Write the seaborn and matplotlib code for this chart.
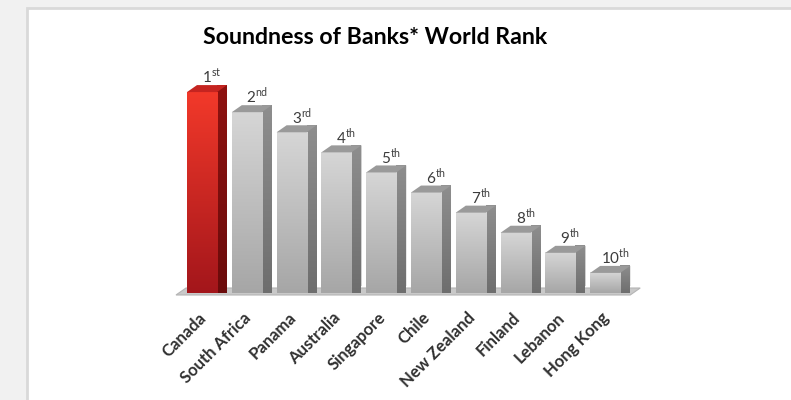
import numpy as np
import matplotlib
matplotlib.use("Agg")
import matplotlib.pyplot as plt
import matplotlib.transforms as mtransforms
import seaborn as sns
from matplotlib.colors import LinearSegmentedColormap
from matplotlib.patches import Polygon, Rectangle

# --- data ---
countries = ["Canada", "South Africa", "Panama", "Australia", "Singapore",
             "Chile", "New Zealand", "Finland", "Lebanon", "Hong Kong"]
scores = [10, 9, 8, 7, 6, 5, 4, 3, 2, 1]
ranks = ["1", "2", "3", "4", "5", "6", "7", "8", "9", "10"]
suffixes = ["st", "nd", "rd", "th", "th", "th", "th", "th", "th", "th"]
title = "Soundness of Banks* World Rank"

# --- styles ---
RED = {"front": ["#f2392a", "#a3161b"], "side": ["#8e1210", "#6b0b0b"], "top": "#c52420"}
GRAY = {"front": ["#d6d6d6", "#a6a6a6"], "side": ["#8e8e8e", "#6e6e6e"], "top": "#9a9a9a"}
DEPTH_PX = (10, 7)

sns.set_theme(style="white")
plt.rcParams["font.family"] = ["Lato", "DejaVu Sans"]
plt.rcParams["mathtext.fontset"] = "custom"
plt.rcParams["mathtext.rm"] = "Lato"

W, H = 791, 400
fig = plt.figure(figsize=(W / 100, H / 100), dpi=100, facecolor="#f1f1f1")

# white panel with grey frame
fig.patches.append(Rectangle((26.5 / W, -0.1), 1.2, 1 - 8.5 / H + 0.1, transform=fig.transFigure,
                             facecolor="white", edgecolor="#d9d9d9", linewidth=2.0, zorder=-10))

ax_left, ax_right = 179.6, 627.6
ax_bottom, ax_top = 293, 72
ax = fig.add_axes([ax_left / W, 1 - ax_bottom / H, (ax_right - ax_left) / W, (ax_bottom - ax_top) / H])
ax.set_facecolor("none")
ax.set_zorder(2)

palette = ["#a3161b"] + ["#a6a6a6"] * (len(countries) - 1)
sns.barplot(x=countries, y=scores, hue=countries, palette=palette, legend=False,
            width=0.67, ax=ax, zorder=3)

ax.set_xlim(-0.5, len(countries) - 0.5)
ax.set_ylim(0, 11)
sns.despine(ax=ax, left=True, bottom=True)
ax.set_yticks([])
ax.set_ylabel("")

# depth offset in data units
ux = (ax_right - ax_left) / len(countries)
uy = (ax_bottom - ax_top) / 11
dx, dy = DEPTH_PX[0] / ux, DEPTH_PX[1] / uy

bars = sorted(ax.patches, key=lambda p: p.get_x())

# floor slab
x_lo = bars[0].get_x() - 11 / ux
x_hi = bars[-1].get_x() + bars[-1].get_width() + dx
fz = -2 / uy
ax.add_patch(Polygon([(x_lo, fz), (x_hi, fz), (x_hi + dx, fz + dy), (x_lo + dx, fz + dy)],
                     closed=True, facecolor="#c9c9c9", edgecolor="#b5b5b5", lw=0.8,
                     clip_on=False, zorder=1))

grad = np.linspace(1, 0, 256).reshape(-1, 1)
for i, p in enumerate(bars):
    st = RED if i == 0 else GRAY
    x0, w, h = p.get_x(), p.get_width(), p.get_height()
    x1 = x0 + w
    # front face gradient
    cm = LinearSegmentedColormap.from_list("f%d" % i, [st["front"][1], st["front"][0]])
    im = ax.imshow(grad, extent=[x0, x1, 0, h], aspect="auto", cmap=cm, zorder=4, clip_on=False)
    im.set_clip_path(p)
    p.set_edgecolor("none")
    # side face
    side = Polygon([(x1, 0), (x1 + dx, dy), (x1 + dx, h + dy), (x1, h)], closed=True,
                   facecolor=st["side"][0], edgecolor="none", clip_on=False, zorder=2)
    ax.add_patch(side)
    cm2 = LinearSegmentedColormap.from_list("s%d" % i, [st["side"][1], st["side"][0]])
    im2 = ax.imshow(grad, extent=[x1, x1 + dx, 0, h + dy], aspect="auto", cmap=cm2,
                    zorder=2, clip_on=False)
    im2.set_clip_path(side)
    # top face
    ax.add_patch(Polygon([(x0, h), (x1, h), (x1 + dx, h + dy), (x0 + dx, h + dy)], closed=True,
                         facecolor=st["top"], edgecolor="none", clip_on=False, zorder=5))
    # rank label
    ax.text(x0 + w / 2 + dx, h + dy + 2 / uy,
            ranks[i] + r"$^{\mathregular{" + suffixes[i] + "}}$",
            ha="center", va="baseline", fontsize=11, color="#3c3c3c", zorder=6)

ax.set_xlim(-0.5, len(countries) - 0.5)
ax.set_ylim(0, 11)

ax.tick_params(axis="x", length=0, pad=12, labelsize=12, labelcolor="#303030")
shift = mtransforms.ScaledTranslation(-4 / 100, 0, fig.dpi_scale_trans)
for lab in ax.get_xticklabels():
    lab.set_rotation(45)
    lab.set_ha("right")
    lab.set_va("top")
    lab.set_rotation_mode("anchor")
    lab.set_fontweight("bold")
    lab.set_transform(lab.get_transform() + shift)
ax.set_xlabel("")

fig.text(375 / W, 1 - 44 / H, title, ha="center", va="baseline",
         fontsize=16.7, fontweight="bold", color="black")

fig.savefig("out.png", dpi=100, facecolor=fig.get_facecolor())
